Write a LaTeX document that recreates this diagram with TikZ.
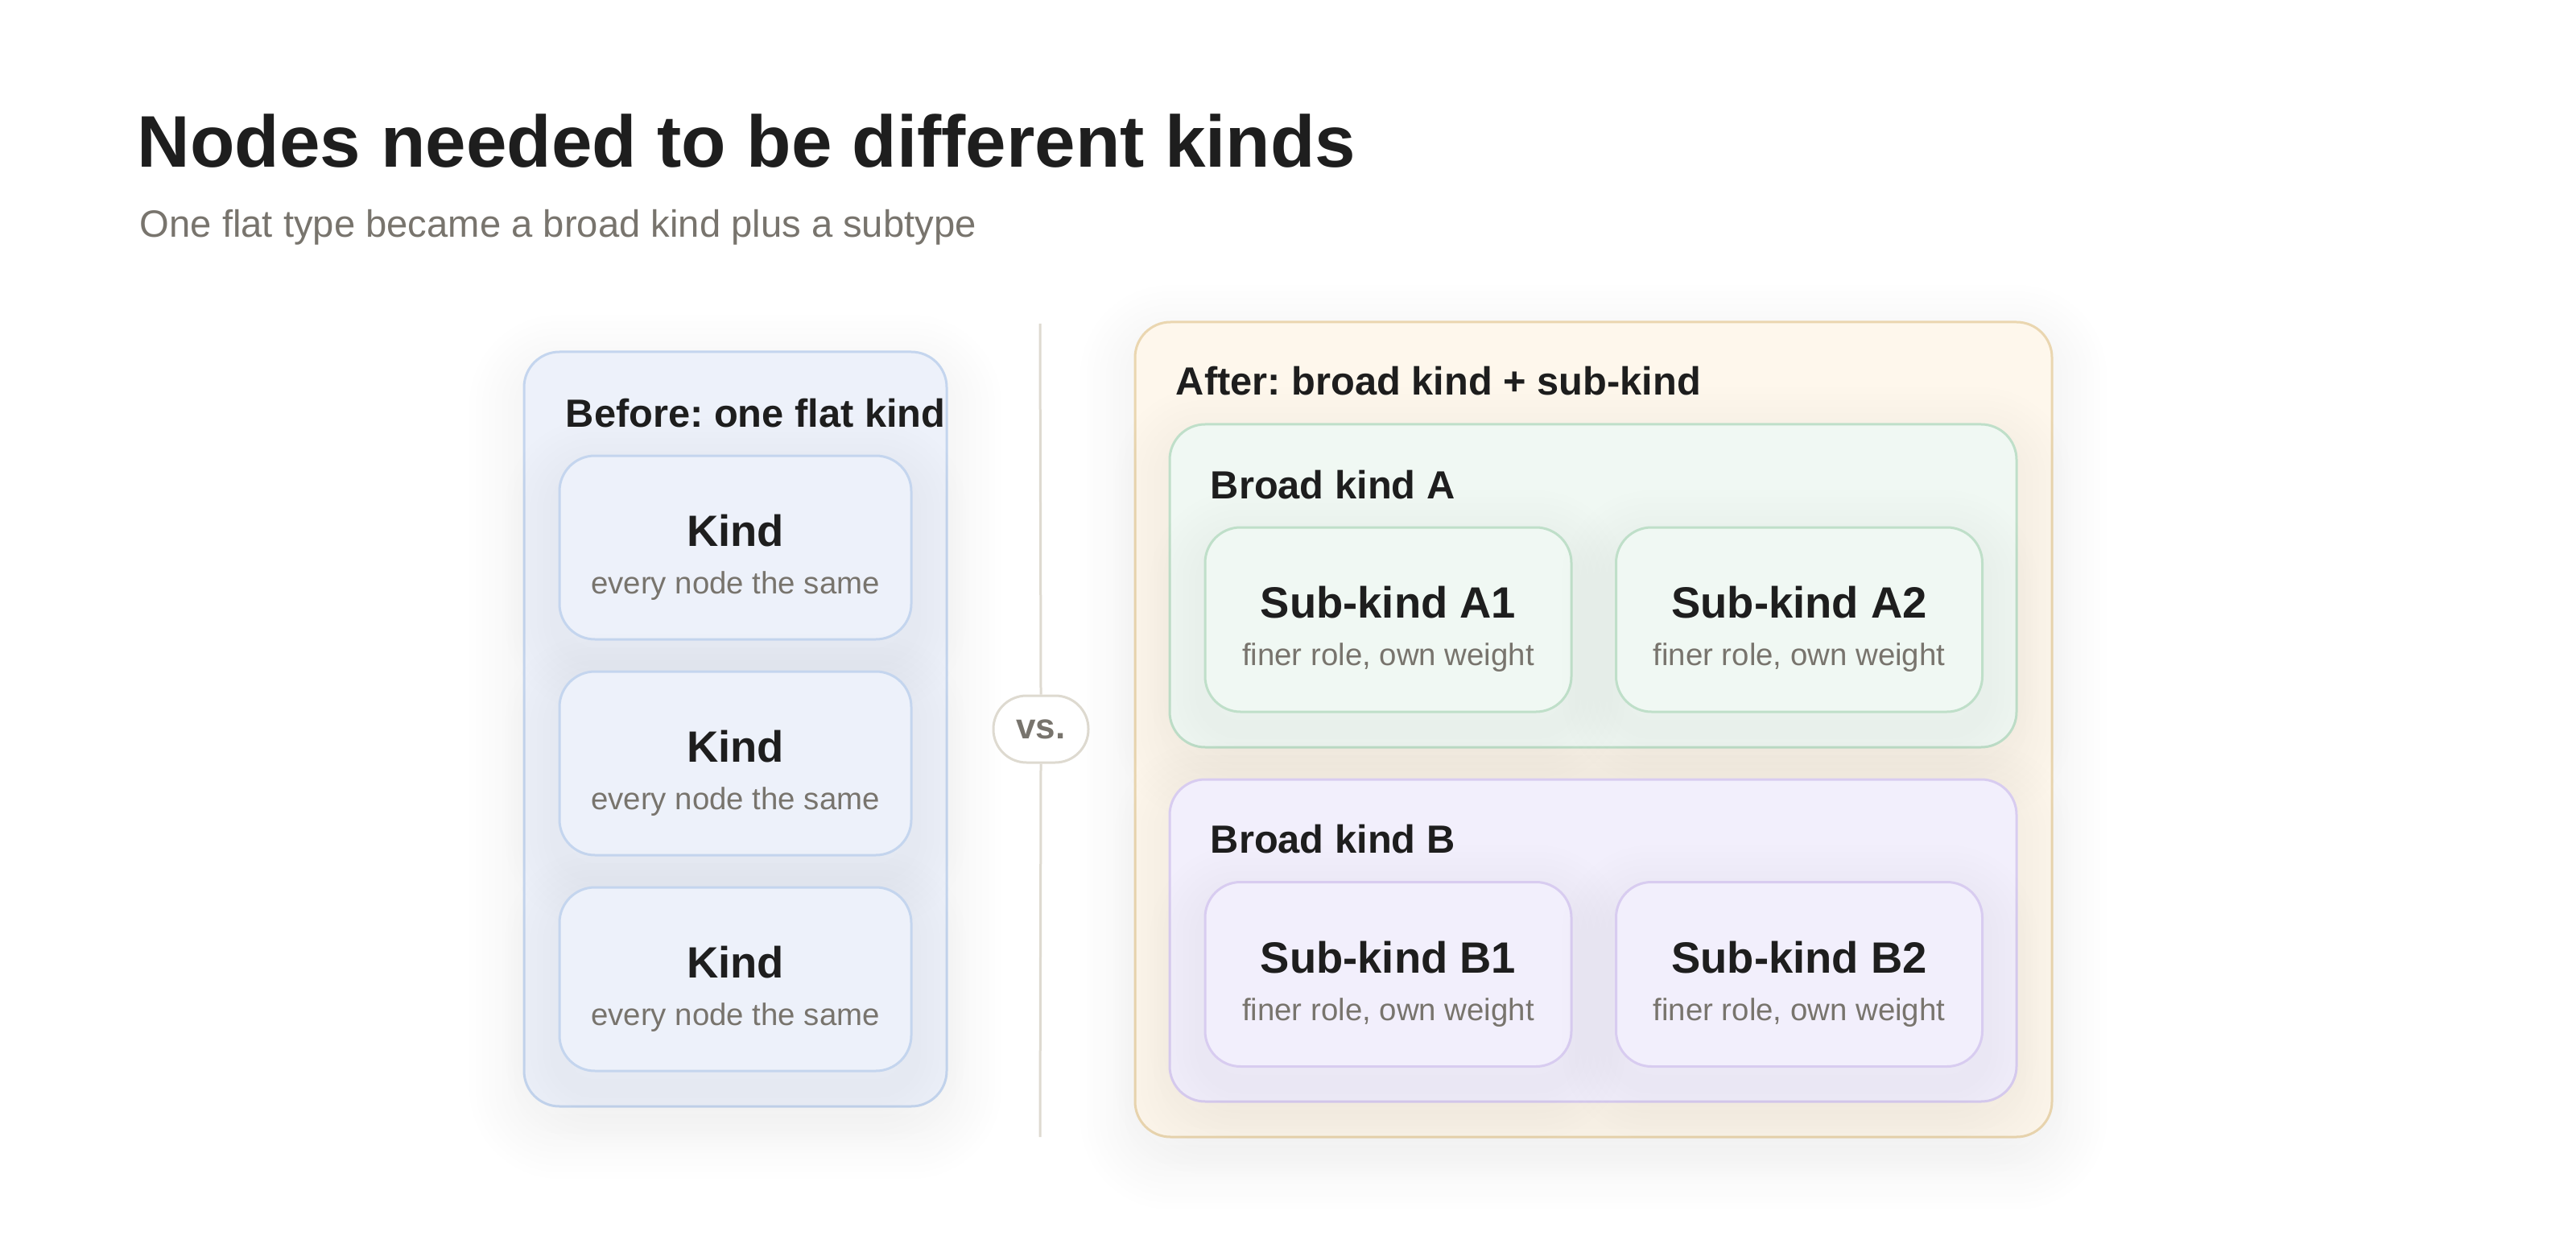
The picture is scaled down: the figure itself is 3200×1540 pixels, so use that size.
\documentclass[tikz,border=0pt]{standalone}
\usepackage{fontspec}
\setmainfont{Liberation Sans}
\frenchspacing
\definecolor{ink}{HTML}{1E1E1E}
\definecolor{mute}{HTML}{78746D}
\definecolor{bluefill}{HTML}{EDF1FA}
\definecolor{blueline}{HTML}{C4D5EE}
\definecolor{sandfill}{HTML}{FEF7EC}
\definecolor{sandline}{HTML}{EAD6B0}
\definecolor{greenfill}{HTML}{F0F8F3}
\definecolor{greenline}{HTML}{BFDFC9}
\definecolor{lilacfill}{HTML}{F2EFFC}
\definecolor{lilacline}{HTML}{D8CCF0}
\definecolor{rule}{HTML}{DEDAD0}
\tikzset{
  shl/.style={preaction={draw=black, draw opacity=0.0042, line width=#1, transform canvas={yshift=-5.5pt}}},
  sh/.style={shl=34pt, shl=30pt, shl=26pt, shl=22pt, shl=18pt, shl=14pt, shl=10pt, shl=6pt},
  box/.style={draw, line width=0.75pt, rounded corners=11pt, inner sep=0pt, sh},
  leftpanel/.style={box, fill=bluefill, draw=blueline, minimum width=131.25pt, minimum height=234.25pt},
  kindbox/.style={box, fill=bluefill, draw=blueline, minimum width=109.25pt, minimum height=57pt},
  rightpanel/.style={box, fill=sandfill, draw=sandline, minimum width=284.75pt, minimum height=253pt},
  groupA/.style={box, fill=greenfill, draw=greenline, minimum width=263pt, minimum height=100.25pt},
  groupB/.style={box, fill=lilacfill, draw=lilacline, minimum width=263pt, minimum height=100pt},
  subA/.style={box, fill=greenfill, draw=greenline, minimum width=113.75pt, minimum height=57.25pt},
  subB/.style={box, fill=lilacfill, draw=lilacline, minimum width=113.75pt, minimum height=57.25pt},
  heading/.style={anchor=base west, inner sep=0pt, text=ink, font=\fontsize{12.2}{14}\selectfont\bfseries},
  cardtitle/.style={anchor=base, inner sep=0pt, text=ink, font=\fontsize{13.6}{16}\selectfont\bfseries},
  cardsub/.style={anchor=base, inner sep=0pt, text=mute, font=\fontsize{9.6}{12}\selectfont},
}
\begin{document}
\begin{tikzpicture}[x=0.25pt, y=-0.25pt]
\useasboundingbox[fill=white] (0,0) rectangle (3200,1540);

% title
\node[anchor=base west, inner sep=0pt, text=ink, font=\fontsize{22.7}{27}\selectfont\bfseries] (title) at (170,208) {Nodes needed to be different kinds};
\node[anchor=base west, inner sep=0pt, text=mute, font=\fontsize{11.8}{14}\selectfont] (subtitle) at (173,295) {One flat type became a broad kind plus a subtype};

% left panel
\node[leftpanel] (left) at (913.5,905.5) {};
\node[heading] (lefthead) at (702,530) {Before: one flat kind};
\foreach \n/\y in {k1/680, k2/948, k3/1216}{
  \node[kindbox] (\n) at (913.5,\y) {};
  \node[cardtitle] (\n t) at (913.5,\y-2) {Kind};
  \node[cardsub] (\n s) at (913.5,\y+57) {every node the same};
}

% divider
\coordinate (dtop) at (1292,402);
\coordinate (dbot) at (1292,1412);
\node[draw=rule, line width=0.75pt, fill=white, rounded corners=10.3pt, minimum width=29.5pt, minimum height=20.75pt, inner sep=0pt, text=mute, font=\fontsize{11}{13}\selectfont\bfseries] (vs) at (1293,905.5) {vs.};
\draw[rule, line width=0.75pt] (dtop) -- (vs.north);
\draw[rule, line width=0.75pt] (vs.south) -- (dbot);

% right panel
\node[rightpanel] (right) at (1979.5,906) {};
\node[heading] (righthead) at (1460,491) {After: broad kind + sub-kind};

\node[groupA] (A) at (1979,727.5) {};
\node[heading] (Ahead) at (1503,619) {Broad kind A};
\node[subA] (A1) at (1724.5,769.5) {};
\node[subA] (A2) at (2235,769.5) {};
\node[cardtitle] (A1t) at (1724.5,767.5) {Sub-kind A1};
\node[cardsub] (A1s) at (1724.5,826.5) {finer role, own weight};
\node[cardtitle] (A2t) at (2235,767.5) {Sub-kind A2};
\node[cardsub] (A2s) at (2235,826.5) {finer role, own weight};

\node[groupB] (B) at (1979,1168) {};
\node[heading] (Bhead) at (1503,1059) {Broad kind B};
\node[subB] (B1) at (1724.5,1210) {};
\node[subB] (B2) at (2235,1210) {};
\node[cardtitle] (B1t) at (1724.5,1208) {Sub-kind B1};
\node[cardsub] (B1s) at (1724.5,1267) {finer role, own weight};
\node[cardtitle] (B2t) at (2235,1208) {Sub-kind B2};
\node[cardsub] (B2s) at (2235,1267) {finer role, own weight};
\end{tikzpicture}
\end{document}
